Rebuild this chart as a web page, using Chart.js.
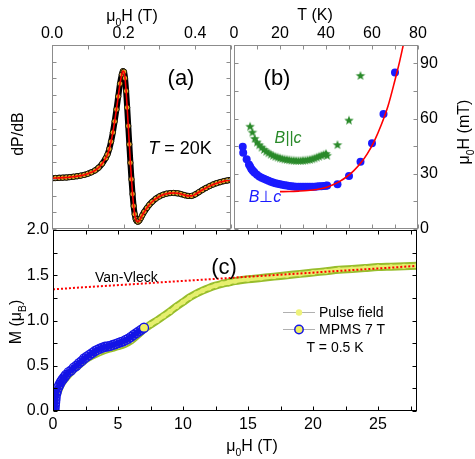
<!DOCTYPE html>
<html><head><meta charset="utf-8">
<script src="https://cdn.jsdelivr.net/npm/chart.js@4/dist/chart.umd.min.js"></script>
<style>html,body{margin:0;padding:0;background:#fff;}#wrap{position:relative;width:475px;height:459px;}canvas{position:absolute;left:0;top:0;}</style>
</head><body><div id="wrap">
<canvas id="ca" width="475" height="459"></canvas>
<canvas id="cb" width="475" height="459"></canvas>
<canvas id="cc" width="475" height="459"></canvas>
</div>
<script>
// ---------- Panel (a): ESR derivative spectrum, T = 20 K ----------
const esrField = [0.000,0.010,0.020,0.030,0.040,0.050,0.060,0.070,0.080,0.090,0.100,0.110,0.120,0.130,0.140,0.150,0.155,0.160,0.165,0.170,0.175,0.180,0.185,0.190,0.195,0.198,0.201,0.204,0.207,0.210,0.213,0.216,0.219,0.222,0.225,0.228,0.231,0.234,0.237,0.240,0.244,0.248,0.252,0.258,0.265,0.272,0.280,0.290,0.300,0.310,0.320,0.330,0.340,0.350,0.360,0.370,0.380,0.390,0.400,0.410,0.420,0.430,0.440,0.450,0.460,0.470,0.480,0.490,0.500];
const esrSignal = [27.6,27.7,27.8,27.9,28.0,28.2,28.4,28.7,29.0,29.4,30.0,30.8,31.8,33.3,35.5,38.5,40.5,43.5,47.5,52.5,58.5,65,72,79,84,85.8,85.5,82,75,66,56,46,36,27,19,12.5,8,5.3,4.2,4.0,4.6,5.9,7.4,9.4,11.4,13.2,14.8,16.5,17.7,18.6,19.2,19.5,19.6,19.4,19.0,18.4,18.0,18.0,18.8,20.0,21.2,22.3,23.3,24.2,24.9,25.5,26.0,26.4,26.7];
const aTopTicks = [0,0.1,0.2,0.3,0.4,0.5];
const aTopLabels = ['0.0','','0.2','','0.4',''];
const aSideTicks = [0,9.1,18.2,27.3,36.4,45.5,54.5,63.6,72.7,81.8,90.9,100];

// ---------- Panel (b): resonance field vs temperature ----------
const perpT = [3.8,4.0,5.5,6.5,7,7.5,8,8.5,9,10,11,12,13,14,15,16,17,18,19,20,21,22,23,24,25,26,27,28,29,30,31,32,33,34,35,36,37,38,39,40,40.5,45,50,55,60,65,70];
const perpH = [44.7,41.5,37.9,35,33.9,32.8,31.9,31.2,30.6,29.5,28.6,27.9,27.3,26.7,26.2,25.7,25.3,24.9,24.6,24.3,24.0,23.8,23.6,23.4,23.3,23.1,23.0,23.0,22.9,22.9,22.9,22.9,22.9,23.0,23.0,23.1,23.2,23.3,23.4,23.5,23.6,24.3,28.8,36.6,46.6,62.5,85];
const parT = [7,8,9,10,11,12,13,14,15,16,17,18,19,20,21,22,23,24,25,26,27,28,29,30,31,32,33,34,35,36,37,38,39,40,40.5,45,50,55];
const parH = [55.6,52.4,49,47,45.5,44.2,43,42,41.2,40.4,39.8,39.2,38.8,38.4,38.1,37.8,37.6,37.4,37.2,37.1,37.0,37.0,37.0,37.1,37.2,37.4,37.6,37.9,38.3,38.8,39.3,39.8,40.3,40.8,39.8,45.6,58.9,83.2];
const fitT = [20,24,28,32,36,40,43,46,49,52,55,58,61,64,67,70,72,73.6];
const fitH = [20.3,20.4,20.6,20.9,21.5,22.6,24.0,25.9,28.4,31.6,35.7,41.0,47.8,56.5,67,81,91,100];
const bTopTicks = [0,10,20,30,40,50,60,70,80];
const bTopLabels = ['0','','20','','40','','60','','80'];
const bRightTicks = [0,15,30,45,60,75,90];
const bRightLabels = ['0','','30','','60','','90'];

// ---------- Panel (c): magnetization at T = 0.5 K ----------
const mpmsH = [0.10,0.12,0.14,0.16,0.18,0.20,0.25,0.30,0.40,0.50,0.60,0.70,0.80,0.90,1.0,1.2,1.4,1.6,1.8,2.0,2.2,2.4,2.6,2.8,3.0,3.2,3.4,3.6,3.8,4.0,4.2,4.4,4.6,4.8,5.0,5.2,5.4,5.6,5.8,6.0,6.2,6.4,6.6,6.8,7.0];
const mpmsM = [0.00,0.03,0.06,0.09,0.12,0.15,0.19,0.22,0.26,0.29,0.32,0.34,0.36,0.38,0.40,0.43,0.45,0.48,0.50,0.53,0.55,0.58,0.60,0.62,0.64,0.66,0.675,0.69,0.70,0.71,0.715,0.72,0.73,0.74,0.75,0.76,0.77,0.785,0.80,0.82,0.84,0.86,0.88,0.90,0.92];
const pulseH = [0.3,0.6,1,1.5,2,2.5,3,3.5,4,4.5,5,5.5,6,6.5,7,7.5,8,8.5,9,9.5,10,10.5,11,11.5,12,12.5,13,13.5,14,15,16,17,18,19,20,21,22,23,24,25,26,27,28];
const pulseM = [0.18,0.29,0.37,0.45,0.51,0.57,0.61,0.645,0.675,0.695,0.715,0.74,0.78,0.84,0.905,0.955,1.0,1.05,1.10,1.155,1.205,1.255,1.295,1.33,1.36,1.385,1.405,1.42,1.435,1.455,1.47,1.485,1.50,1.515,1.53,1.545,1.56,1.57,1.58,1.59,1.595,1.60,1.605];
const vanVleckH = [0,28];
const vanVleckM = [1.345,1.603];
const cXTicks = [0,2.5,5,7.5,10,12.5,15,17.5,20,22.5,25,27.5];
const cXLabels = ['0','','5','','10','','15','','20','','25',''];
const cYTicks = [0,0.25,0.5,0.75,1.0,1.25,1.5,1.75,2.0];
const cYLabels = ['0.0','','0.5','','1.0','','1.5','','2.0'];

const FONT = "'Liberation Sans', Arial, sans-serif";
const pts = (xs, ys) => xs.map((x, i) => ({x, y: ys[i]}));

function rich(ctx, segs, x, y, size, rot, color, align) {
  ctx.save(); ctx.translate(x, y); ctx.rotate(rot || 0); ctx.fillStyle = color || '#000';
  ctx.textBaseline = 'alphabetic';
  let w = 0;
  const parts = segs.map(s => {
    const fs = s.sub ? size * 0.65 : size;
    const f = (s.it ? 'italic ' : '') + fs + 'px ' + FONT;
    ctx.font = f; const m = ctx.measureText(s.t).width; w += m;
    return {s, f, m};
  });
  let cx = align === 'left' ? 0 : -w / 2;
  const base = size * 0.36;
  for (const p of parts) {
    ctx.font = p.f; ctx.fillText(p.s.t, cx, base + (p.s.sub ? size * 0.3 : 0)); cx += p.m;
  }
  ctx.restore();
}

function makeFrame(color, len) {
  return {id: 'frame', afterDraw(chart) {
    const {ctx, chartArea: a} = chart;
    const L = Math.round(a.left) + 0.5, R = Math.round(a.right) - 0.5, T = Math.round(a.top) + 0.5, B = Math.round(a.bottom) - 0.5;
    ctx.save(); ctx.strokeStyle = color; ctx.lineWidth = 1;
    ctx.strokeRect(L, T, R - L, B - T);
    ctx.beginPath();
    const xs = chart.scales.x;
    for (const t of xs.ticks) { const p = Math.round(xs.getPixelForValue(t.value)) + 0.5; ctx.moveTo(p, T); ctx.lineTo(p, T + len); ctx.moveTo(p, B); ctx.lineTo(p, B - len); }
    const ys = chart.scales.y;
    for (const t of ys.ticks) { const p = Math.round(ys.getPixelForValue(t.value)) + 0.5; ctx.moveTo(L, p); ctx.lineTo(L + len, p); ctx.moveTo(R, p); ctx.lineTo(R - len, p); }
    ctx.stroke(); ctx.restore();
  }};
}
function makeText(fn) { return {id: 'txt', afterDraw(chart) { const ctx = chart.ctx; ctx.save(); fn(ctx, chart); ctx.restore(); }}; }

const tickFont = {family: FONT, size: 16};
function axis(pos, min, max, list, labels, pad, extra) {
  return Object.assign({
    type: 'linear', position: pos, min, max,
    afterBuildTicks: s => { s.ticks = list.map(v => ({value: v})); },
    ticks: {display: !!labels, callback: (v, i) => labels ? labels[i] : '', font: tickFont, color: '#000', padding: pad, autoSkip: false, maxRotation: 0, minRotation: 0},
    grid: {display: false, drawTicks: false, tickLength: 0}, border: {display: false}
  }, extra || {});
}
const baseOpts = {responsive: false, animation: false, devicePixelRatio: 1, events: []};

// ---------- Chart (a) ----------
new Chart(document.getElementById('ca'), {
  type: 'scatter',
  data: {datasets: [
    {label: 'Fit', data: pts(esrField, esrSignal), showLine: true, borderColor: '#ff0000', borderWidth: 1.6, pointRadius: 0, cubicInterpolationMode: 'monotone', order: 0},
    {label: 'Data', data: pts(esrField, esrSignal), showLine: true, borderColor: '#000', borderWidth: 6, pointRadius: 2.7, pointBackgroundColor: '#e0aa28', pointBorderColor: '#000', pointBorderWidth: 0.8, cubicInterpolationMode: 'monotone', order: 1}
  ]},
  options: Object.assign({}, baseOpts, {
    layout: {padding: {left: 0, top: 0, right: 244, bottom: 230}},
    plugins: {legend: {display: false}, tooltip: {enabled: false}},
    scales: {
      x: axis('top', 0, 0.5, aTopTicks, aTopLabels, 2, {afterFit: s => { s.height = 45; }}),
      y: axis('left', 0, 100, aSideTicks, null, 2, {afterFit: s => { s.width = 52; }})
    }
  }),
  plugins: [makeFrame('#8c8c8c', 4), makeText((ctx) => {
    rich(ctx, [{t: 'μ'}, {t: '0', sub: true}, {t: 'H (T)'}], 132, 15, 16, 0);
    rich(ctx, [{t: 'dP/dB'}], 17, 134, 16, -Math.PI / 2);
    rich(ctx, [{t: '(a)'}], 181, 77, 22, 0);
    rich(ctx, [{t: 'T', it: true}, {t: ' = 20K'}], 180, 148, 18, 0);
  })]
});

// ---------- Chart (b) ----------
function starImage(color, r) {
  const s = Math.ceil(r * 2 + 2), c = document.createElement('canvas'); c.width = c.height = s;
  const g = c.getContext('2d'); g.fillStyle = color; g.beginPath();
  for (let i = 0; i < 10; i++) { const an = -Math.PI / 2 + i * Math.PI / 5, rr = i % 2 ? r * 0.42 : r; g.lineTo(s / 2 + rr * Math.cos(an), s / 2 + rr * Math.sin(an)); }
  g.closePath(); g.fill(); return c;
}
const star = starImage('#2a8a2a', 5);
new Chart(document.getElementById('cb'), {
  type: 'scatter',
  data: {datasets: [
    {label: 'Fit', data: pts(fitT, fitH), showLine: true, borderColor: '#ff0000', borderWidth: 1.6, pointRadius: 0, cubicInterpolationMode: 'monotone', order: 0},
    {label: 'B⊥c', data: pts(perpT, perpH), pointRadius: 4, pointBackgroundColor: '#1a1aff', pointBorderWidth: 0, order: 1},
    {label: 'B||c', data: pts(parT, parH), pointStyle: star, pointRadius: 5, order: 2}
  ]},
  options: Object.assign({}, baseOpts, {
    layout: {padding: {left: 234, top: 0, right: 0, bottom: 230}},
    plugins: {legend: {display: false}, tooltip: {enabled: false}},
    scales: {
      x: axis('top', 0, 80, bTopTicks, bTopLabels, 2, {afterFit: s => { s.height = 45; }}),
      y: axis('right', 0, 100, bRightTicks, bRightLabels, 2, {afterFit: s => { s.width = 57; }})
    }
  }),
  plugins: [makeFrame('#8c8c8c', 4), makeText((ctx) => {
    rich(ctx, [{t: 'T (K)'}], 315, 14, 16, 0);
    rich(ctx, [{t: 'μ'}, {t: '0', sub: true}, {t: 'H (mT)'}], 463, 132, 16, -Math.PI / 2);
    rich(ctx, [{t: '(b)'}], 277, 77, 22, 0);
    rich(ctx, [{t: 'B||c', it: true}], 288, 137, 16, 0, '#2a8a2a');
    rich(ctx, [{t: 'B', it: true}, {t: '⊥'}, {t: 'c', it: true}], 265, 196, 16, 0, '#1a1aff');
  })]
});

// ---------- Chart (c) ----------
const mpmsFill = mpmsH.map((h, i) => i === mpmsH.length - 1 ? '#f0f060' : 'rgba(0,0,0,0)');
new Chart(document.getElementById('cc'), {
  type: 'scatter',
  data: {datasets: [
    {label: 'Van-Vleck', data: pts(vanVleckH, vanVleckM), showLine: true, borderColor: '#ff0000', borderWidth: 2, borderDash: [2, 2], pointRadius: 0, order: 0},
    {label: 'MPMS 7 T', data: pts(mpmsH, mpmsM), showLine: true, borderColor: '#1414e6', borderWidth: 6, pointRadius: 4.5, pointBackgroundColor: mpmsFill, pointBorderColor: '#1414e6', pointBorderWidth: 1.3, cubicInterpolationMode: 'monotone', order: 1},
    {label: 'Pulse field core', data: pts(pulseH, pulseM), showLine: true, borderColor: '#e6ef6e', borderWidth: 4, pointRadius: 0, cubicInterpolationMode: 'monotone', order: 2},
    {label: 'Pulse field', data: pts(pulseH, pulseM), showLine: true, borderColor: '#98bd2c', borderWidth: 8, pointRadius: 2.5, pointBackgroundColor: '#eef27a', pointBorderWidth: 0, cubicInterpolationMode: 'monotone', order: 3}
  ]},
  options: Object.assign({}, baseOpts, {
    layout: {padding: {left: 0, top: 230, right: 58, bottom: 0}},
    plugins: {legend: {display: false}, tooltip: {enabled: false}},
    scales: {
      x: axis('bottom', 0, 28, cXTicks, cXLabels, 4, {afterFit: s => { s.height = 48; }}),
      y: axis('left', 0, 2, cYTicks, cYLabels, 4, {afterFit: s => { s.width = 53; }})
    }
  }),
  plugins: [makeFrame('#000', 4), makeText((ctx, chart) => {
    const ds = chart.data.datasets;
    rich(ctx, [{t: 'μ'}, {t: '0', sub: true}, {t: 'H (T)'}], 252, 445, 16, 0);
    rich(ctx, [{t: 'M (μ'}, {t: 'B', sub: true}, {t: ')'}], 15, 322, 16, -Math.PI / 2);
    rich(ctx, [{t: '(c)'}], 224, 266, 22, 0);
    rich(ctx, [{t: ds[0].label}], 95, 277, 14, 0, '#000', 'left');
    // legend
    ctx.strokeStyle = '#b0b0b0'; ctx.lineWidth = 1;
    ctx.beginPath(); ctx.moveTo(283, 312.5); ctx.lineTo(315, 312.5); ctx.moveTo(283, 329.5); ctx.lineTo(315, 329.5); ctx.stroke();
    ctx.fillStyle = '#eef27a'; ctx.beginPath(); ctx.arc(299, 312.5, 3.2, 0, Math.PI * 2); ctx.fill();
    ctx.fillStyle = '#f0f060'; ctx.strokeStyle = '#1414e6'; ctx.lineWidth = 1.5; ctx.beginPath(); ctx.arc(299, 329.5, 4.2, 0, Math.PI * 2); ctx.fill(); ctx.stroke();
    rich(ctx, [{t: ds[3].label}], 319, 312, 14, 0, '#000', 'left');
    rich(ctx, [{t: ds[1].label}], 319, 329, 14, 0, '#000', 'left');
    rich(ctx, [{t: 'T = 0.5 K'}], 335, 347, 14, 0);
  })]
});
</script></body></html>
